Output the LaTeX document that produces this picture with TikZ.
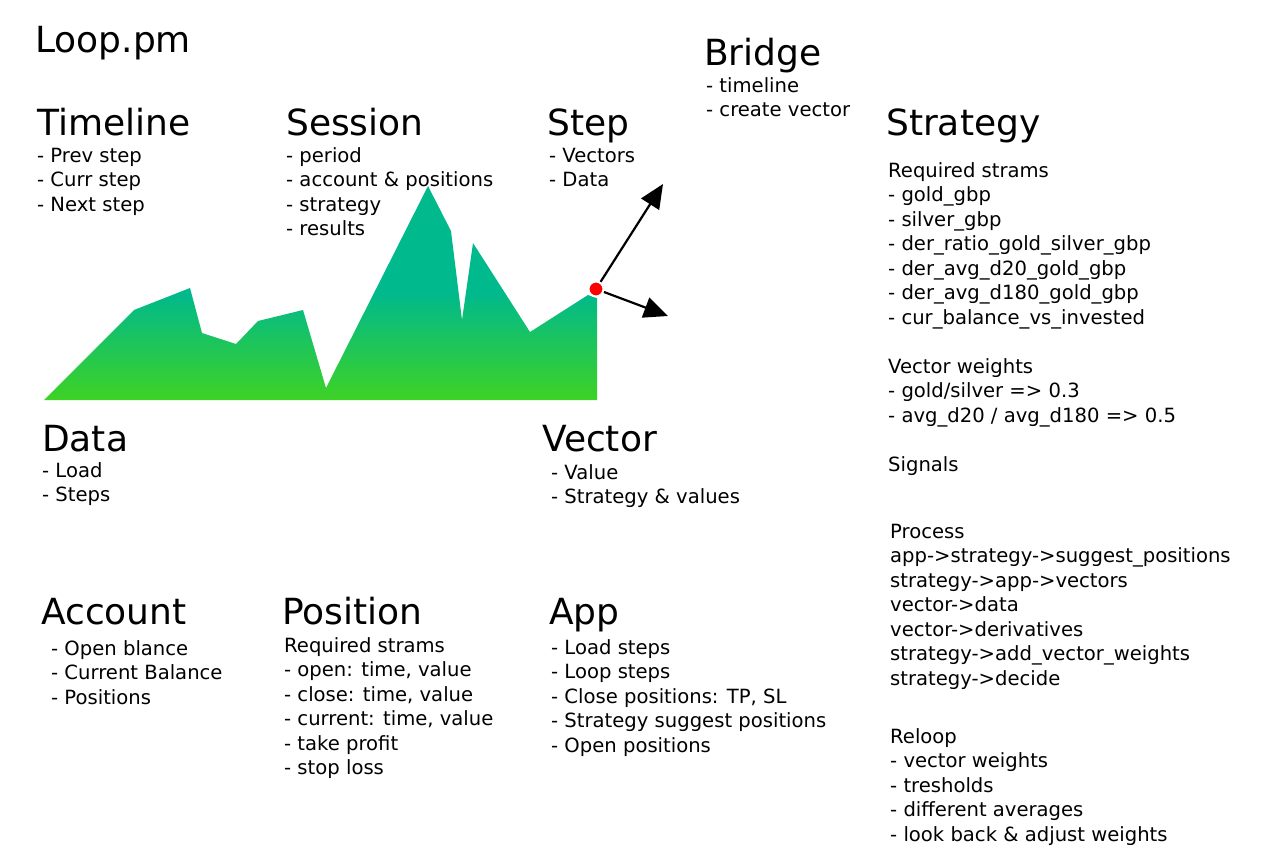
\documentclass[tikz,border=0pt]{standalone}
\usepackage{fontspec}
\setmainfont{DejaVu Sans}
\usetikzlibrary{positioning, arrows.meta}

\definecolor{chartteal}{RGB}{0,185,140}
\definecolor{chartgreen}{RGB}{62,210,36}
\pgfdeclareverticalshading{chartfill}{100bp}{color(0bp)=(chartgreen); color(25bp)=(chartgreen);
  color(50bp)=(chartteal); color(100bp)=(chartteal)}

% list of lines, baseline at the first line
\newcommand{\lines}[1]{\begin{tabular}[t]{@{}l@{}}#1\end{tabular}}

\tikzset{
  title/.style={anchor=base west, inner sep=0pt, font=\fontsize{36}{43}\selectfont},
  body/.style={anchor=base west, inner sep=0pt, font=\fontsize{19.6}{24.5}\selectfont},
  vec/.style={line width=2.2pt, -{Triangle[length=24pt,width=21pt]}}
}

\begin{document}
\begin{tikzpicture}[x=1pt,y=-1pt]
\useasboundingbox (0,0) rectangle (1263,863);

% price chart
\shade[shading=chartfill] (44,400) -- (134,310) -- (190,288) -- (202,333) -- (236,344)
  -- (258,321) -- (303,310) -- (326,388) -- (428,186) -- (451,231) -- (462,320)
  -- (473,243) -- (530,332) -- (588,295) -- (597,298) -- (597,400) -- cycle;
\node[circle, fill=red, draw=white, line width=2pt, minimum size=15pt, inner sep=0pt] (now) at (596,289) {};
\coordinate (up) at (663,184);
\coordinate (fwd) at (668,316);
\draw[vec] (now) -- (up);
\draw[vec] (now) -- (fwd);

% top row
\node[title] (loop) at (35,52) {Loop.pm};
\node[title] (timeline) at (37,135) {Timeline};
\node[body] (timelineL) at (37,162) {\lines{- Prev step\\- Curr step\\- Next step}};
\node[title] (session) at (286,135) {Session};
\node[body] (sessionL) at (286,162) {\lines{- period\\- account \& positions\\- strategy\\- results}};
\node[title] (step) at (547,135) {Step};
\node[body] (stepL) at (549,162) {\lines{- Vectors\\- Data}};
\node[title] (bridge) at (704,65) {Bridge};
\node[body] (bridgeL) at (706,92) {\lines{- timeline\\- create vector}};

% strategy column
\node[title] (strategy) at (886,135) {Strategy};
\node[body] (strategyL) at (888,177) {\lines{Required strams\\- gold\_gbp\\- silver\_gbp\\
  - der\_ratio\_gold\_silver\_gbp\\- der\_avg\_d20\_gold\_gbp\\- der\_avg\_d180\_gold\_gbp\\
  - cur\_balance\_vs\_invested\\[24.5pt]
  Vector weights\\- gold/silver => 0.3\\- avg\_d20 / avg\_d180 => 0.5\\[24.5pt]
  Signals}};
\node[body] (process) at (890,538) {\lines{Process\\app->strategy->suggest\_positions\\
  strategy->app->vectors\\vector->data\\vector->derivatives\\
  strategy->add\_vector\_weights\\strategy->decide}};
\node[body] (reloop) at (890,743) {\lines{Reloop\\- vector weights\\- tresholds\\
  - different averages\\- look back \& adjust weights}};

% middle row
\node[title] (data) at (42,451) {Data};
\node[body] (dataL) at (42,477) {\lines{- Load\\- Steps}};
\node[title] (vector) at (542,451) {Vector};
\node[body] (vectorL) at (551,479) {\lines{- Value\\- Strategy \& values}};

% bottom row
\node[title] (account) at (41,624) {Account};
\node[body] (accountL) at (51,655) {\lines{- Open blance\\- Current Balance\\- Positions}};
\node[title] (position) at (282,624) {Position};
\node[body] (positionL) at (284,652) {\lines{Required strams\\- open: time, value\\- close: time, value\\
  - current: time, value\\- take profit\\- stop loss}};
\node[title] (app) at (549,624) {App};
\node[body] (appL) at (551,654) {\lines{- Load steps\\- Loop steps\\- Close positions: TP, SL\\
  - Strategy suggest positions\\- Open positions}};
\end{tikzpicture}
\end{document}
